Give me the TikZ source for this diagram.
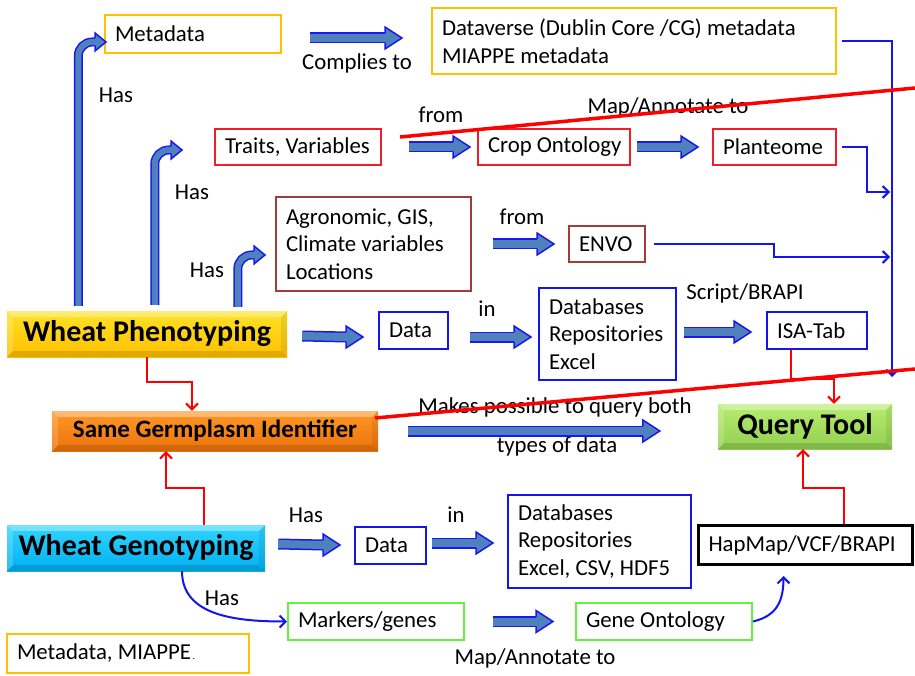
\documentclass[tikz,border=0pt]{standalone}
\usepackage{fontspec}
\setmainfont{Carlito}
\usetikzlibrary{arrows.meta,calc,backgrounds}
\definecolor{steel}{RGB}{79,129,189}
\definecolor{fblue}{RGB}{25,25,235}
\definecolor{lblue}{RGB}{20,20,240}
\definecolor{gold}{RGB}{255,192,0}
\definecolor{rbox}{RGB}{240,30,40}
\definecolor{brbox}{RGB}{160,60,60}
\definecolor{gbox}{RGB}{100,240,60}
\hbadness=10000 \hfuzz=50pt
\tikzset{
 bx/.style={draw, line width=2pt, anchor=north west, align=flush left, inner xsep=0pt, inner ysep=0pt, font=\fontsize{22.8}{27.5}\selectfont},
 big/.style={anchor=center, inner sep=0pt, font=\bfseries\fontsize{30}{34}\selectfont},
 lbl/.style={inner sep=0pt, font=\fontsize{22.8}{27.5}\selectfont},
 thinb/.style={draw=lblue, line width=2pt, -{Straight Barb[length=6pt,width=12pt]}},
 thinr/.style={draw=red, line width=2pt, -{Straight Barb[length=6pt,width=12pt]}},
 redline/.style={draw=red, line width=3.5pt},
 fatshaft/.style={draw=fblue, line width=1.5pt, double=steel, double distance=8pt},
 bentshaft/.style={draw=fblue, line width=1.5pt, double=steel, double distance=6pt, rounded corners=14pt},
}
% tip coord, half height, length, shaft outline offset
\newcommand{\fathead}[4]{%
 \fill[steel] (#1) -- ++(-#3pt,#2pt) -- ++(0pt,-2*#2pt) -- cycle;
 \draw[fblue, line width=1.5pt, line join=miter] ([shift={(-#3pt,#4pt)}]#1) -- ++(0pt,#2pt-#4pt) -- (#1) -- ++(-#3pt,-#2pt) -- ++(0pt,#2pt-#4pt);}
\newcommand{\fatarrow}[2]{\draw[fatshaft] (#1) -- ([xshift=-17pt]#2); \fathead{#2}{11}{17}{4.75}}
\newcommand{\bentarrow}[2]{\draw[bentshaft] (#1) |- ([xshift=-11pt]#2); \fathead{#2}{9}{11}{3.75}}
\newcommand{\softshadow}[1]{\begin{pgfonlayer}{background}\foreach \s in {1,...,7}{\fill[black,opacity=0.06,rounded corners=3pt] ([shift={(7-\s,9-\s)}]#1.north west) rectangle ([shift={(9+\s,12+\s)}]#1.south east);}\end{pgfonlayer}}
\newcommand{\bevel}[1]{%
 \fill[white,opacity=0.35] (#1.north west) -- (#1.north east) -- ([shift={(-6,6)}]#1.north east) -- ([shift={(6,6)}]#1.north west) -- cycle;
 \fill[white,opacity=0.18] (#1.north west) -- ([shift={(6,6)}]#1.north west) -- ([shift={(6,-6)}]#1.south west) -- (#1.south west) -- cycle;
 \fill[black,opacity=0.07] (#1.north east) -- ([shift={(-6,6)}]#1.north east) -- ([shift={(-6,-6)}]#1.south east) -- (#1.south east) -- cycle;
 \fill[black,opacity=0.12] (#1.south west) -- ([shift={(6,-6)}]#1.south west) -- ([shift={(-6,-6)}]#1.south east) -- (#1.south east) -- cycle;}
\begin{document}
\begin{tikzpicture}[x=1pt,y=-1pt]
\useasboundingbox[fill=white] (0,0) rectangle (915,676);
% boxes
\node[bx, draw=gold, minimum width=176pt, minimum height=38pt, text width=156pt] (meta) at (104,14) {\mbox{Metadata}};
\node[bx, draw=gold, minimum width=404pt, minimum height=66pt, text width=384pt] (dv) at (431,7) {\mbox{Dataverse (Dublin Core /CG) metadata}\\\mbox{MIAPPE metadata}};
\node[bx, draw=rbox, minimum width=166pt, minimum height=36pt, text width=146pt] (traits) at (214,128) {\mbox{Traits, Variables}};
\node[bx, draw=rbox, minimum width=152pt, minimum height=36pt, text width=132pt] (crop) at (477,128) {\mbox{Crop Ontology}};
\node[bx, draw=rbox, minimum width=123pt, minimum height=36pt, text width=103pt] (plant) at (712,128) {\mbox{Planteome}};
\node[bx, draw=brbox, minimum width=195pt, minimum height=94pt, text width=175pt] (agro) at (275,196) {\mbox{Agronomic, GIS,}\\\mbox{Climate variables}\\\mbox{Locations}};
\node[bx, draw=brbox, minimum width=76pt, minimum height=36pt, text width=56pt] (envo) at (568,225) {\mbox{ENVO}};
\node[bx, draw=lblue, minimum width=69pt, minimum height=37pt, text width=49pt] (pdata) at (378,311) {\mbox{Data}};
\node[bx, draw=lblue, minimum width=137pt, minimum height=92pt, text width=117pt] (pdb) at (538,287) {\mbox{Databases}\\\mbox{Repositories}\\\mbox{Excel}};
\node[bx, draw=lblue, minimum width=100pt, minimum height=37pt, text width=80pt] (isa) at (766,311) {\mbox{ISA-Tab}};
\node[bx, draw=lblue, minimum width=71pt, minimum height=37pt, text width=51pt] (gdata) at (354,526) {\mbox{Data}};
\node[bx, draw=lblue, minimum width=183pt, minimum height=93pt, text width=163pt] (gdb) at (507,494) {\mbox{Databases}\\\mbox{Repositories}\\\mbox{Excel, CSV, HDF5}};
\node[bx, draw=black, line width=3pt, minimum width=214pt, minimum height=39pt, text width=194pt] (hap) at (697,524) {\mbox{HapMap/VCF/BRAPI}};
\node[bx, draw=gbox, minimum width=176pt, minimum height=37pt, text width=156pt] (mark) at (287,602) {\mbox{Markers/genes}};
\node[bx, draw=gbox, minimum width=176pt, minimum height=37pt, text width=156pt] (go) at (575,602) {\mbox{Gene Ontology}};
\node[bx, draw=gold, minimum width=242pt, minimum height=39pt, text width=222pt] (mm) at (6,633) {\mbox{Metadata, MIAPPE{\fontsize{10}{10}\selectfont\,.}}};
% main shaded boxes
\node[big, top color={rgb,255:red,255;green,226;blue,40}, bottom color={rgb,255:red,255;green,192;blue,0}, minimum width=280pt, minimum height=46pt] (wp) at (147,334) {Wheat Phenotyping};
\node[big, font=\bfseries\fontsize{25}{30}\selectfont, top color={rgb,255:red,255;green,152;blue,40}, bottom color={rgb,255:red,236;green,114;blue,10}, minimum width=326pt, minimum height=40pt] (sgi) at (215,431) {Same Germplasm Identifier};
\node[big, top color={rgb,255:red,50;green,212;blue,255}, bottom color={rgb,255:red,0;green,176;blue,240}, minimum width=258pt, minimum height=46pt] (wg) at (136,548) {Wheat Genotyping};
\node[big, top color={rgb,255:red,184;green,236;blue,112}, bottom color={rgb,255:red,146;green,208;blue,80}, minimum width=174pt, minimum height=45pt] (qt) at (805,426.5) {Query Tool};
\softshadow{wp}\softshadow{sgi}\softshadow{wg}\softshadow{qt}
\bevel{wp}\bevel{sgi}\bevel{wg}\bevel{qt}
% labels
\node[lbl] (l1) at (357,63) {Complies to};
\node[lbl] (h1) at (116,95) {Has};
\node[lbl] (h2) at (192,192) {Has};
\node[lbl] (h3) at (207,270) {Has};
\node[lbl] (f1) at (441,115) {from};
\node[lbl] (m1) at (668,107) {Map/Annotate to};
\node[lbl] (f2) at (522,217) {from};
\node[lbl] (i1) at (487,309) {in};
\node[lbl] (s1) at (745,293) {Script/BRAPI};
\node[lbl] (mk1) at (555,407) {Makes possible to query both};
\node[lbl] (mk2) at (557,446) {types of data};
\node[lbl] (h4) at (306,515) {Has};
\node[lbl] (i2) at (456,515) {in};
\node[lbl] (h5) at (222,598) {Has};
\node[lbl] (m2) at (535,658) {Map/Annotate to};
% fat arrow tips
\coordinate (t1) at ([shift={(-29,-3)}]dv.west);
\coordinate (t2) at ([shift={(-7,0)}]crop.west);
\coordinate (t3) at ([shift={(-14,0)}]plant.west);
\coordinate (t4) at ([shift={(-14,0)}]envo.west);
\coordinate (t5) at ([shift={(-15,6.5)}]pdata.west);
\coordinate (t6) at ([shift={(-7,3)}]pdb.west);
\coordinate (t7) at ([shift={(-15,1.5)}]isa.west);
\coordinate (t8) at ([shift={(-58,4.5)}]qt.west);
\coordinate (t9) at ([shift={(-14,-0.5)}]gdata.west);
\coordinate (t10) at ([shift={(-14,1.5)}]gdb.west);
\coordinate (t11) at ([shift={(-22,0)}]go.west);
\fatarrow{[shift={(28,4)}]meta.east}{t1}
\fatarrow{[shift={(27,0)}]traits.east}{t2}
\fatarrow{[shift={(6,0)}]crop.east}{t3}
\fatarrow{[shift={(21,0)}]agro.east}{t4}
\fatarrow{[shift={(15,2)}]wp.east}{t5}
\fatarrow{[shift={(21,6.5)}]pdata.east}{t6}
\fatarrow{[shift={(7,-2)}]pdb.east}{t7}
\fatarrow{[shift={(30,0)}]sgi.east}{t8}
\fatarrow{[shift={(13,-4)}]wg.east}{t9}
\fatarrow{[shift={(5,-2.5)}]gdata.east}{t10}
\fatarrow{[shift={(28,0)}]mark.east}{t11}
% bent Has arrows
\coordinate (b1) at ([shift={(2,8)}]meta.west);
\coordinate (b2) at ([shift={(-32,3)}]traits.west);
\coordinate (b3) at ([shift={(-10,11)}]agro.west);
\bentarrow{[shift={(71.5,-5)}]wp.north west}{b1}
\bentarrow{[shift={(148,-6)}]wp.north west}{b2}
\bentarrow{[shift={(231,-4)}]wp.north west}{b3}
% thin connectors
\coordinate (rc) at (892,377);
\coordinate (pin) at (890,192);
\coordinate (ein) at (890,257);
\draw[thinb] ([xshift=5pt]dv.east) -| (rc);
\draw[thinb] ([xshift=5pt]plant.east) -- ++(25,0) |- (pin);
\draw[thinb] ([xshift=8pt]envo.east) -- ++(120,0) |- (ein);
\draw[thinr] ([xshift=-26pt]isa.south) -- ++(0,29) -| ([xshift=29pt]qt.north);
\draw[thinr] ([xshift=38pt]hap.north) -- ++(0,-36) -| ([xshift=-2pt]qt.south);
\draw[thinr] (wp.south) -- ++(0,25) -| ([xshift=-23pt]sgi.north);
\draw[thinr] ([xshift=68pt]wg.north) -- ++(0,-37) -| ([xshift=-49pt]sgi.south);
\draw[thinb] ([xshift=46pt]wg.south) .. controls ([xshift=46pt,yshift=-45pt]wg.south) and ([xshift=-50pt]mark.west) .. (mark.west);
\draw[thinb] (go.east) .. controls ([xshift=20pt,yshift=5pt]go.east) and ([shift={(-22,40)}]hap.south) .. ([shift={(-22,10)}]hap.south);
% red diagonal lines
\coordinate (r1e) at (915,88);
\coordinate (r2e) at (915,369);
\draw[redline] ([shift={(18,-10)}]traits.east) -- (r1e);
\draw[redline] ([shift={(-3,-13)}]sgi.east) -- (r2e);
\end{tikzpicture}
\end{document}
